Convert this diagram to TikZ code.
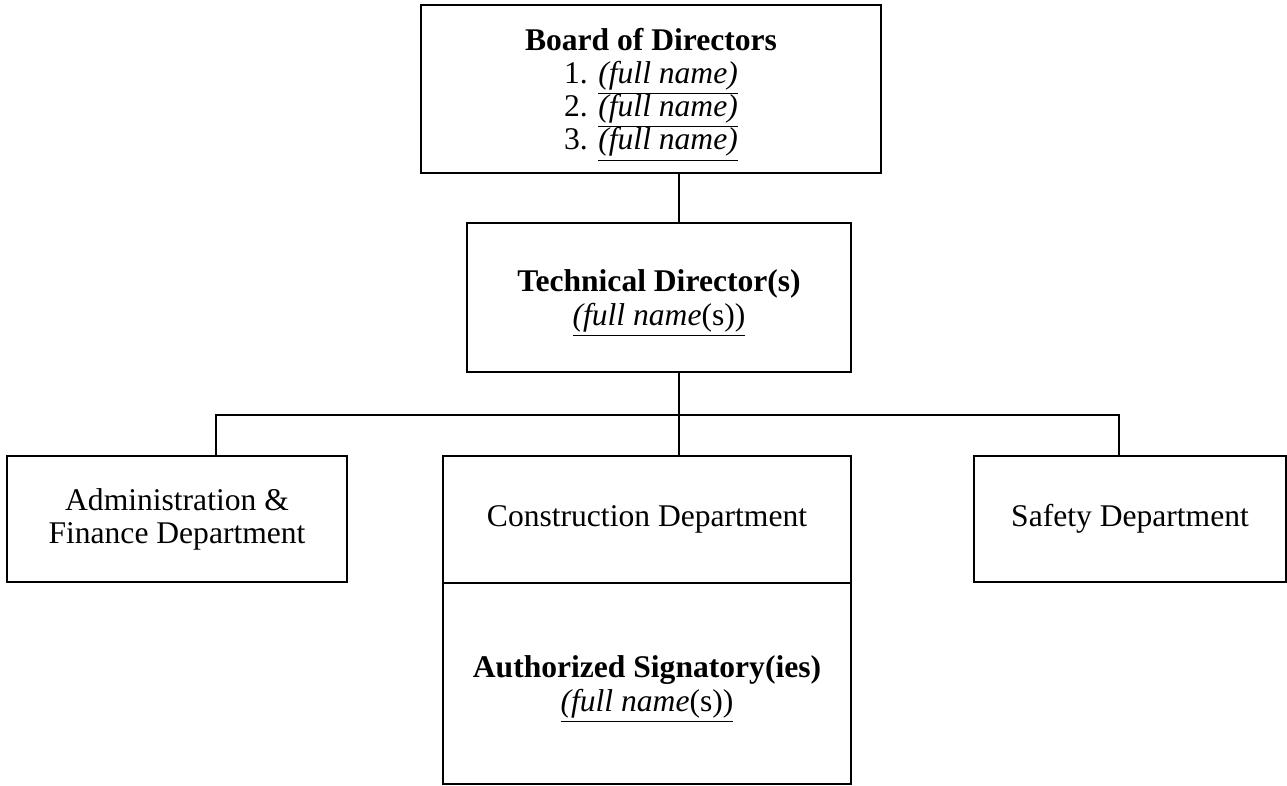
\documentclass[tikz,border=0pt]{standalone}
\usepackage{fontspec}
\setmainfont{Liberation Serif}
\usepackage{tikz}

\newcommand{\fullname}{\smash{\underline{\textit{(full name)}}}}
\newcommand{\fullnames}{\smash{\underline{\textit{(full name}(s))}}}

\begin{document}
\begin{tikzpicture}[%
  x=0.38pt,y=-0.38pt,
  font=\fontsize{12pt}{12.6pt}\selectfont,
  unit/.style={draw=black,line width=0.6pt,align=center,inner sep=0pt},
  link/.style={draw=black,line width=0.6pt}
]
  \useasboundingbox (0,0) rectangle (1287,785);

  \node (board) at (651,89) [unit,minimum width=460*0.38pt,minimum height=168*0.38pt]
    {\textbf{Board of Directors}\\ 1. \fullname\\ 2. \fullname\\ 3. \fullname};
  \node (tech) at (659,297.5) [unit,minimum width=384*0.38pt,minimum height=149*0.38pt]
    {\textbf{Technical Director(s)}\\ \fullnames};

  \node (admin) at (177,519) [unit,minimum width=340*0.38pt,minimum height=126*0.38pt]
    {Administration \&\\ Finance Department};
  \node (constr) at (647,519.5) [unit,minimum width=408*0.38pt,minimum height=127*0.38pt]
    {Construction Department};
  \node (auth) at (647,683.5) [unit,minimum width=408*0.38pt,minimum height=201*0.38pt]
    {\textbf{Authorized Signatory(ies)}\\ \fullnames};
  \node (safety) at (1130,519) [unit,minimum width=312*0.38pt,minimum height=126*0.38pt]
    {Safety Department};

  % bus line under the technical director
  \coordinate (bus) at (679,415);
  \coordinate (busleft) at (216,415);
  \coordinate (busright) at (1119,415);

  \draw [link] (board.south -| bus) -- (tech.north -| bus);
  \draw [link] (tech.south -| bus) -- (bus);
  \draw [link] (admin.north -| busleft) -- (busleft) -- (busright) -- (safety.north -| busright);
  \draw [link] (bus) -- (constr.north -| bus);
\end{tikzpicture}
\end{document}
